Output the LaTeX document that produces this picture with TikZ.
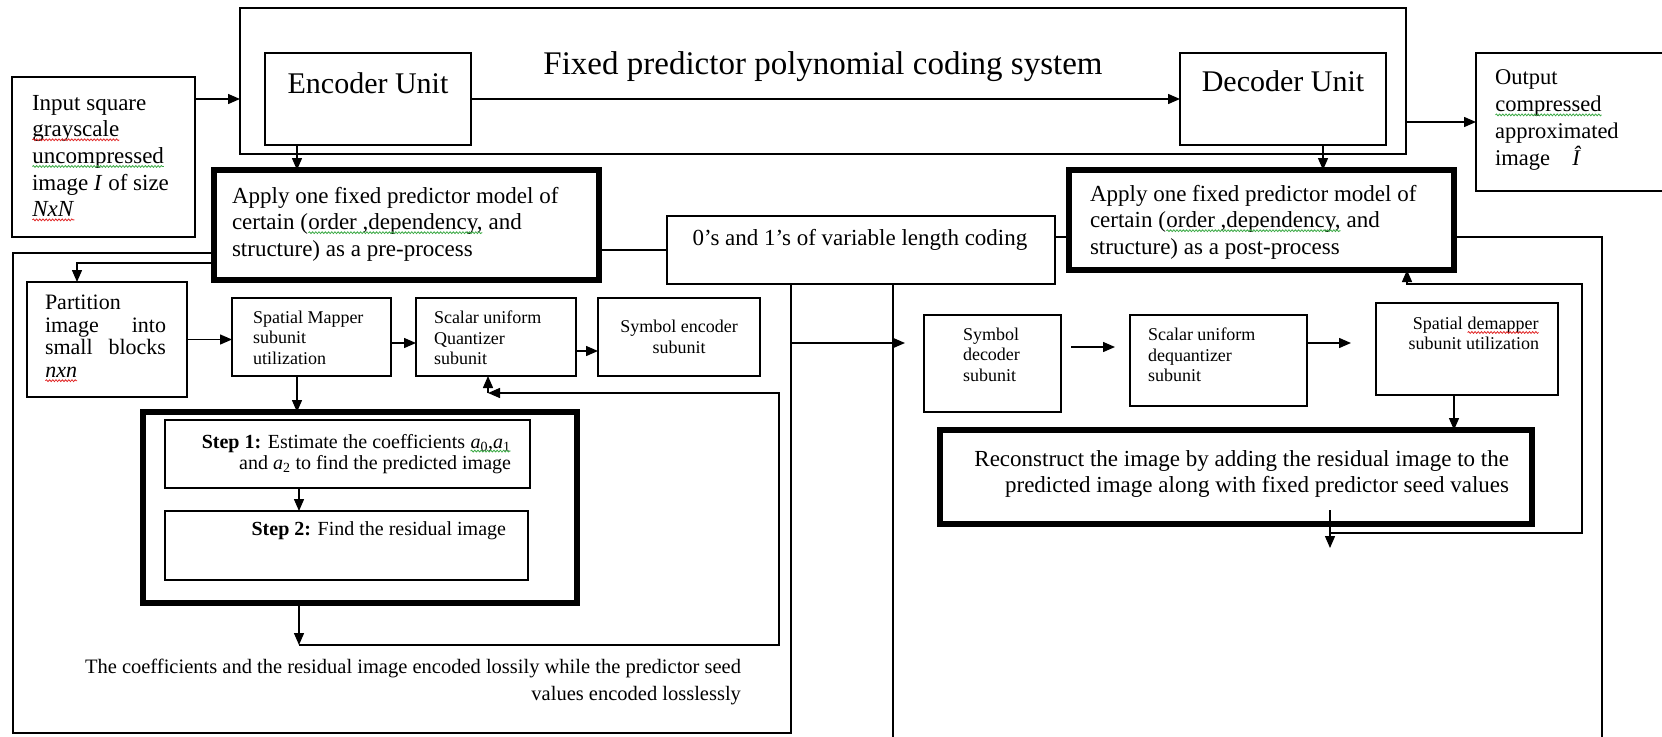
\documentclass[tikz,border=0pt]{standalone}
\usepackage{fontspec}
\setmainfont{Liberation Serif}
\usetikzlibrary{arrows.meta,decorations.pathmorphing}
\definecolor{spellred}{RGB}{225,40,40}
\definecolor{gramgreen}{RGB}{60,170,70}
\newcommand\fsz[2]{\fontsize{#1}{#2}\selectfont}
% word with a wavy proofing underline
\newcommand\wavy[2]{\tikz[baseline=(w.base)]{\node[inner sep=0pt,outer sep=0pt,anchor=base,align=left](w){#2};\draw[#1,line width=0.8pt,decorate,decoration={snake,amplitude=0.9pt,segment length=3.2pt}]([yshift=-3pt]w.base west)--([yshift=-3pt]w.base east);}}
\begin{document}
\begin{tikzpicture}[x=1pt,y=-1pt,
  box/.style={draw,line width=1.4pt,anchor=north west,inner sep=0pt,outer sep=0pt},
  heavy/.style={draw,line width=6pt,anchor=north west,inner sep=0pt,outer sep=0pt},
  lbl/.style={inner sep=0pt,outer sep=0pt},
  wire/.style={line width=1.4pt},
  arr/.style={wire,-{Triangle[length=12pt,width=10pt]}}]

\useasboundingbox[fill=white] (0,0) rectangle (1662,736);

% ---------- boxes ----------
\node[box,minimum width=183pt,minimum height=160pt] (inp) at (12,77) {};
\node[box,minimum width=1166pt,minimum height=146pt] (sys) at (240,8) {};
\node[box,minimum width=206pt,minimum height=92pt] (enc) at (265,53) {};
\node[box,minimum width=206pt,minimum height=92pt] (dec) at (1180,53) {};
\node[box,minimum width=200pt,minimum height=138pt] (out) at (1476,53) {};
\node[heavy,minimum width=385pt,minimum height=110pt] (pre) at (214,170) {};
\node[box,minimum width=388pt,minimum height=68pt] (var) at (667,216) {};
\node[heavy,minimum width=385pt,minimum height=100pt] (post) at (1069,170) {};
\node[box,minimum width=160pt,minimum height=115pt] (part) at (27,282) {};
\node[box,minimum width=159pt,minimum height=78pt] (map) at (232,298) {};
\node[box,minimum width=160pt,minimum height=78pt] (quant) at (416,298) {};
\node[box,minimum width=162pt,minimum height=78pt] (senc) at (598,298) {};
\node[heavy,minimum width=434pt,minimum height=191pt] (stepo) at (143,412) {};
\node[box,minimum width=365pt,minimum height=68pt] (s1) at (165,420) {};
\node[box,minimum width=363pt,minimum height=69pt] (s2) at (165,511) {};
\node[box,minimum width=137pt,minimum height=97pt] (sdec) at (924,315) {};
\node[box,minimum width=177pt,minimum height=91pt] (deq) at (1130,315) {};
\node[box,minimum width=182pt,minimum height=92pt] (demap) at (1376,303) {};
\node[heavy,minimum width=592pt,minimum height=94pt] (recon) at (940,430) {};

% ---------- texts ----------
\node[lbl,font=\fsz{33}{36},anchor=base] (title) at (823,74) {Fixed predictor polynomial coding system};
\node[lbl,font=\fsz{30}{33},anchor=base] (enc-t) at (368,93) {Encoder Unit};
\node[lbl,font=\fsz{30}{33},anchor=base] (dec-t) at (1283,91) {Decoder Unit};
\node[lbl,font=\fsz{23}{26.7},align=left,anchor=north west] (inp-t) at (32,95)
  {Input square\\\wavy{spellred}{grayscale}\\\wavy{gramgreen}{uncompressed}\\image \textit{I} of size\\\wavy{spellred}{\textit{NxN}}};
\node[lbl,font=\fsz{22.5}{27},align=left,anchor=north west] (out-t) at (1495,70)
  {Output\\\wavy{gramgreen}{compressed}\\approximated\\image\quad\textit{Î}};
\node[lbl,font=\fsz{23}{26.5},align=left,anchor=north west] (pre-t) at (232,187)
  {Apply one fixed predictor model of\\certain (\wavy{gramgreen}{order ,dependency,} and\\structure) as a pre-process};
\node[lbl,font=\fsz{23}{26.5},align=left,anchor=north west] (post-t) at (1090,185)
  {Apply one fixed predictor model of\\certain (\wavy{gramgreen}{order ,dependency,} and\\structure) as a post-process};
\node[lbl,font=\fsz{23}{26},anchor=base] (var-t) at (860,245) {0's and 1's of variable length coding};
\node[lbl,font=\fsz{22}{22.7},align=left,anchor=north west] (part-t) at (45,295)
  {Partition\\\makebox[121pt][s]{image into}\\\makebox[121pt][s]{small blocks}\\\wavy{spellred}{\textit{nxn}}};
\node[lbl,font=\fsz{18}{20.5},align=left,anchor=north west] (map-t) at (253,311)
  {Spatial Mapper\\subunit\\utilization};
\node[lbl,font=\fsz{18}{20.5},align=left,anchor=north west] (quant-t) at (434,311)
  {Scalar uniform\\Quantizer\\subunit};
\node[lbl,font=\fsz{18}{21},align=center,anchor=north] (senc-t) at (679,320)
  {Symbol encoder\\subunit};
\node[lbl,font=\fsz{18}{20.5},align=left,anchor=north west] (sdec-t) at (963,328)
  {Symbol\\decoder\\subunit};
\node[lbl,font=\fsz{18}{20.5},align=left,anchor=north west] (deq-t) at (1148,328)
  {Scalar uniform\\dequantizer\\subunit};
\node[lbl,font=\fsz{18}{20},align=right,anchor=north east] (demap-t) at (1539,317)
  {Spatial \wavy{spellred}{demapper}\\subunit utilization};
\node[lbl,font=\fsz{20}{21.5},align=right,anchor=north east] (s1-t) at (511,434)
  {\textbf{Step 1:} Estimate the coefficients \wavy{gramgreen}{\textit{a}\textsubscript{0},\textit{a}\textsubscript{1}}\\and \textit{a}\textsubscript{2} to find the predicted image};
\node[lbl,font=\fsz{20}{22},anchor=base east] (s2-t) at (506,535)
  {\textbf{Step 2:} Find the residual image};
\node[lbl,font=\fsz{20.5}{27},align=right,anchor=north east] (note-t) at (741,659)
  {The coefficients and the residual image encoded lossily while the predictor seed\\values encoded losslessly};
\node[lbl,font=\fsz{23}{26},align=right,anchor=north east] (recon-t) at (1509,451)
  {Reconstruct the image by adding the residual image to the\\predicted image along with fixed predictor seed values};

% ---------- top level flow ----------
\draw[arr] (inp.east |- enc.center) -- (sys.west |- enc.center);
\draw[arr] (enc.east) -- (dec.west);
\draw[arr] (sys.east |- out.west) -- (out.west);
\draw[arr] ([xshift=-71pt]enc.south) -- ([xshift=-71pt]enc.south |- pre.north);
\draw[arr] ([xshift=40pt]dec.south) -- ([xshift=40pt]dec.south |- post.north);
\draw[wire] (var.west) -- (var.west -| pre.east);
\draw[wire] ([yshift=13pt]var.east) -- ([yshift=13pt]var.east -| post.west);

% ---------- encoder section ----------
\coordinate (ecBL) at (13,733);
\coordinate (ecBR) at (791,733);
\draw[wire] ([yshift=-28pt]pre.west) -| (ecBL) -- (ecBR) -- (ecBR |- var.south);
\draw[arr] ([yshift=-38pt]pre.west) -| ([xshift=-30pt]part.north);
\draw[arr] (part.east) -- (part.east -| map.west);
\draw[arr] ([yshift=-6pt]map.east) -- ([yshift=-6pt]map.east -| quant.west);
\draw[arr] ([yshift=-14pt]quant.east) -- ([yshift=-14pt]quant.east -| senc.west);
\draw[arr] ([xshift=-14.5pt]map.south) -- ([xshift=-14.5pt]map.south |- stepo.north);
\draw[arr] ([xshift=-48.5pt]s1.south) -- ([xshift=-48.5pt]s1.south |- s2.north);
\coordinate (fbA) at (299,645);
\coordinate (fbB) at (779,645);
\coordinate (fbC) at (488,393);
\draw[arr] ([xshift=-61pt]stepo.south) -- (fbA);
\draw[arr] (fbA) -- (fbB) |- (fbC);
\draw[arr] (fbC) -- (fbC |- quant.south);

% ---------- decoder section ----------
\coordinate (tap) at (791,343);
\draw[arr] (tap) -- ([xshift=-19pt]sdec.west |- tap);
\coordinate (dcBL) at (893,740);
\coordinate (dcBR) at (1602,740);
\draw[wire] (var.south -| dcBL) -- (dcBL);
\draw[wire] ([yshift=-17pt]post.east) -| (dcBR);
\draw[arr] ([xshift=10pt,yshift=16.5pt]sdec.east) -- ([xshift=-15pt,yshift=16.5pt]sdec.east -| deq.west);
\coordinate (dqo) at ([yshift=17.5pt]deq.east);
\draw[arr] (dqo) -- ([xshift=-25pt]demap.west |- dqo);
\draw[arr] ([xshift=-13pt]demap.south) -- ([xshift=-13pt]demap.south |- recon.north);
\draw[arr] ([xshift=94pt,yshift=14pt]recon.south) -- ([xshift=94pt,yshift=-24pt]recon.south);
\coordinate (pfA) at (1330,533);
\coordinate (pfB) at (1582,284);
\draw[arr] (pfA) -| (pfB) -| ([xshift=145.5pt]post.south);
\end{tikzpicture}
\end{document}
